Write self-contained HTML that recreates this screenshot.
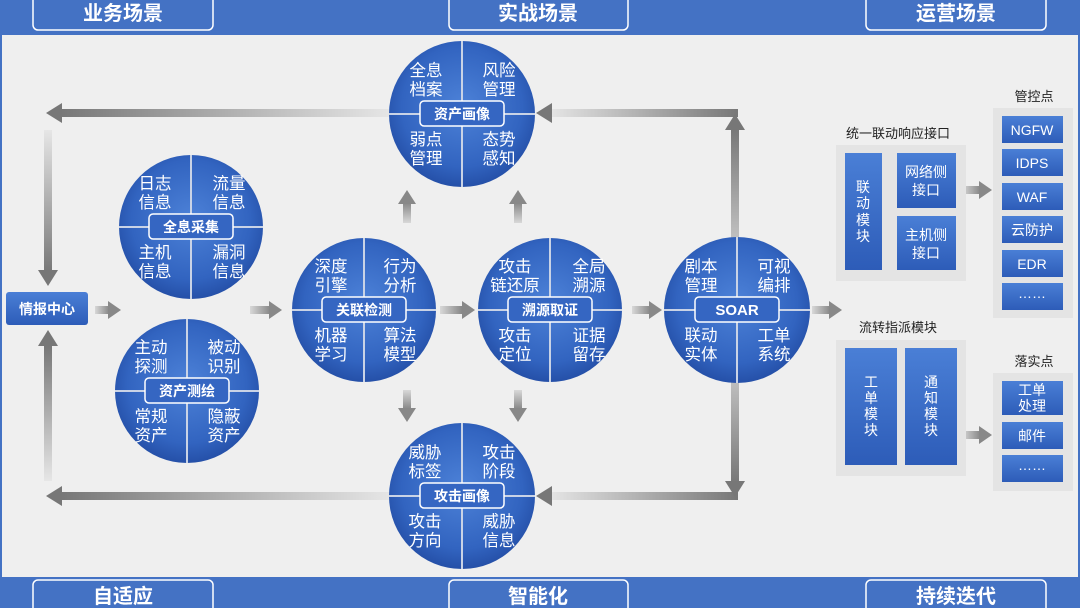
<!DOCTYPE html>
<html><head><meta charset="utf-8"><style>
html,body{margin:0;padding:0;background:#efefef;}
svg{display:block;font-family:"Liberation Sans","Noto Sans CJK SC",sans-serif;}
.q{fill:#fff;font-size:16.5px;text-anchor:middle;font-family:"Liberation Sans","Noto Sans CJK SC",sans-serif;}
.lb{fill:#fff;font-size:14px;font-weight:bold;text-anchor:middle;}
.hd{fill:#fff;font-size:20px;font-weight:bold;text-anchor:middle;}
.bt{fill:#fff;font-size:14px;text-anchor:middle;}
.ttl{fill:#222;font-size:13px;text-anchor:middle;}
</style></head><body>
<svg width="1080" height="608" viewBox="0 0 1080 608" xmlns="http://www.w3.org/2000/svg">
<defs>
<radialGradient id="cg" cx="50%" cy="45%" r="55%">
<stop offset="0" stop-color="#4d82d8"/><stop offset="0.75" stop-color="#3264c0"/><stop offset="1" stop-color="#2550a8"/>
</radialGradient>
<linearGradient id="bx" x1="0" y1="0" x2="0" y2="1"><stop offset="0" stop-color="#4a7fd6"/><stop offset="1" stop-color="#2d5cb8"/></linearGradient>
<linearGradient id="fl" x1="0" y1="0" x2="1" y2="0"><stop offset="0" stop-color="#777"/><stop offset="1" stop-color="#e6e6e6"/></linearGradient>
<linearGradient id="fr" x1="1" y1="0" x2="0" y2="0"><stop offset="0" stop-color="#777"/><stop offset="1" stop-color="#e6e6e6"/></linearGradient>
<linearGradient id="fd" x1="0" y1="1" x2="0" y2="0"><stop offset="0" stop-color="#777"/><stop offset="1" stop-color="#e6e6e6"/></linearGradient>
<linearGradient id="fu" x1="0" y1="0" x2="0" y2="1"><stop offset="0" stop-color="#777"/><stop offset="1" stop-color="#e6e6e6"/></linearGradient>
<linearGradient id="sh" x1="0" y1="0" x2="1" y2="0"><stop offset="0" stop-color="#d8d8d8"/><stop offset="1" stop-color="#888"/></linearGradient>
<linearGradient id="sv" x1="0" y1="0" x2="0" y2="1"><stop offset="0" stop-color="#d8d8d8"/><stop offset="1" stop-color="#888"/></linearGradient>
<linearGradient id="svu" x1="0" y1="1" x2="0" y2="0"><stop offset="0" stop-color="#d8d8d8"/><stop offset="1" stop-color="#888"/></linearGradient>
</defs>
<rect width="1080" height="608" fill="#efefef"/>
<rect x="0" y="0" width="1080" height="35" fill="#4472c4"/>
<rect x="33" y="-6" width="180" height="36" rx="5" fill="none" stroke="#fff" stroke-width="1.5"/>
<rect x="449" y="-6" width="179" height="36" rx="5" fill="none" stroke="#fff" stroke-width="1.5"/>
<rect x="866" y="-6" width="180" height="36" rx="5" fill="none" stroke="#fff" stroke-width="1.5"/>
<text class="hd" x="123" y="20">业务场景</text>
<text class="hd" x="538" y="20">实战场景</text>
<text class="hd" x="956" y="20">运营场景</text>
<rect x="0" y="577" width="1080" height="31" fill="#4472c4"/>
<rect x="33" y="580" width="180" height="36" rx="5" fill="none" stroke="#fff" stroke-width="1.5"/>
<rect x="449" y="580" width="179" height="36" rx="5" fill="none" stroke="#fff" stroke-width="1.5"/>
<rect x="866" y="580" width="180" height="36" rx="5" fill="none" stroke="#fff" stroke-width="1.5"/>
<text class="hd" x="123" y="603">自适应</text>
<text class="hd" x="538" y="603">智能化</text>
<text class="hd" x="956" y="603">持续迭代</text>
<rect x="0" y="35" width="2" height="542" fill="#4472c4"/>
<rect x="1078" y="35" width="2" height="542" fill="#4472c4"/>

<rect x="60" y="109" width="330" height="8" fill="url(#fl)"/>
<polygon points="46,113 62,103 62,123" fill="#777"/>
<rect x="44" y="130" width="8" height="142" fill="url(#fd)"/>
<polygon points="48,286 38,270 58,270" fill="#777"/>
<rect x="60" y="492" width="330" height="8" fill="url(#fl)"/>
<polygon points="46,496 62,486 62,506" fill="#777"/>
<rect x="44" y="346" width="8" height="135" fill="url(#fu)"/>
<polygon points="48,330 38,346 58,346" fill="#777"/>
<rect x="548" y="109" width="190" height="8" fill="url(#fr)"/>
<polygon points="536,113 552,103 552,123" fill="#777"/>
<rect x="731" y="128" width="8" height="168" fill="url(#fu)"/>
<polygon points="735,114 725,130 745,130" fill="#777"/>
<rect x="548" y="492" width="190" height="8" fill="url(#fr)"/>
<polygon points="536,496 552,486 552,506" fill="#777"/>
<rect x="731" y="325" width="8" height="158" fill="url(#fd)"/>
<polygon points="735,497 725,481 745,481" fill="#777"/>
<g>
<rect x="95" y="306" width="14" height="8" fill="url(#sh)"/><polygon points="121,310 108,301 108,319" fill="#888"/>
<rect x="250" y="306" width="20" height="8" fill="url(#sh)"/><polygon points="282,310 269,301 269,319" fill="#888"/>
<rect x="440" y="306" width="22" height="8" fill="url(#sh)"/><polygon points="475,310 462,301 462,319" fill="#888"/>
<rect x="632" y="306" width="18" height="8" fill="url(#sh)"/><polygon points="662,310 649,301 649,319" fill="#888"/>
<rect x="812" y="306" width="18" height="8" fill="url(#sh)"/><polygon points="842,310 829,301 829,319" fill="#888"/>
<rect x="403" y="203" width="8" height="20" fill="url(#svu)"/><polygon points="407,190 398,204 416,204" fill="#888"/>
<rect x="514" y="203" width="8" height="20" fill="url(#svu)"/><polygon points="518,190 509,204 527,204" fill="#888"/>
<rect x="403" y="390" width="8" height="19" fill="url(#sv)"/><polygon points="407,422 398,408 416,408" fill="#888"/>
<rect x="514" y="390" width="8" height="19" fill="url(#sv)"/><polygon points="518,422 509,408 527,408" fill="#888"/>
<rect x="962" y="186" width="18" height="8" fill="url(#sh)"/><polygon points="992,190 979,181 979,199" fill="#888"/>
<rect x="962" y="431" width="18" height="8" fill="url(#sh)"/><polygon points="992,435 979,426 979,444" fill="#888"/>
</g>

<rect x="6" y="292" width="82" height="33" rx="3" fill="url(#bx)"/>
<text class="lb" x="47" y="314">情报中心</text>

<g>
<circle cx="462" cy="114" r="73" fill="url(#cg)"/>
<line x1="462" y1="41" x2="462" y2="187" stroke="#c9d3e6" stroke-width="2"/>
<line x1="389" y1="114" x2="535" y2="114" stroke="#c9d3e6" stroke-width="2"/>
<text class="q" x="426" y="76">全息</text><text class="q" x="426" y="95">档案</text>
<text class="q" x="499" y="76">风险</text><text class="q" x="499" y="95">管理</text>
<text class="q" x="426" y="145">弱点</text><text class="q" x="426" y="164">管理</text>
<text class="q" x="499" y="145">态势</text><text class="q" x="499" y="164">感知</text>
<rect x="420" y="101" width="84" height="25" rx="4" fill="#3566c2" stroke="#fff" stroke-width="1.5"/>
<text class="lb" x="462" y="119">资产画像</text>
</g>
<g>
<circle cx="191" cy="227" r="72" fill="url(#cg)"/>
<line x1="191" y1="155" x2="191" y2="299" stroke="#c9d3e6" stroke-width="2"/>
<line x1="119" y1="227" x2="263" y2="227" stroke="#c9d3e6" stroke-width="2"/>
<text class="q" x="155" y="189">日志</text><text class="q" x="155" y="208">信息</text>
<text class="q" x="229" y="189">流量</text><text class="q" x="229" y="208">信息</text>
<text class="q" x="155" y="258">主机</text><text class="q" x="155" y="277">信息</text>
<text class="q" x="229" y="258">漏洞</text><text class="q" x="229" y="277">信息</text>
<rect x="149" y="214" width="84" height="25" rx="4" fill="#3566c2" stroke="#fff" stroke-width="1.5"/>
<text class="lb" x="191" y="232">全息采集</text>
</g>
<g>
<circle cx="187" cy="391" r="72" fill="url(#cg)"/>
<line x1="187" y1="319" x2="187" y2="463" stroke="#c9d3e6" stroke-width="2"/>
<line x1="115" y1="391" x2="259" y2="391" stroke="#c9d3e6" stroke-width="2"/>
<text class="q" x="151" y="353">主动</text><text class="q" x="151" y="372">探测</text>
<text class="q" x="224" y="353">被动</text><text class="q" x="224" y="372">识别</text>
<text class="q" x="151" y="422">常规</text><text class="q" x="151" y="441">资产</text>
<text class="q" x="224" y="422">隐蔽</text><text class="q" x="224" y="441">资产</text>
<rect x="145" y="378" width="84" height="25" rx="4" fill="#3566c2" stroke="#fff" stroke-width="1.5"/>
<text class="lb" x="187" y="396">资产测绘</text>
</g>
<g>
<circle cx="364" cy="310" r="72" fill="url(#cg)"/>
<line x1="364" y1="238" x2="364" y2="382" stroke="#c9d3e6" stroke-width="2"/>
<line x1="292" y1="310" x2="436" y2="310" stroke="#c9d3e6" stroke-width="2"/>
<text class="q" x="331" y="272">深度</text><text class="q" x="331" y="291">引擎</text>
<text class="q" x="400" y="272">行为</text><text class="q" x="400" y="291">分析</text>
<text class="q" x="331" y="341">机器</text><text class="q" x="331" y="360">学习</text>
<text class="q" x="400" y="341">算法</text><text class="q" x="400" y="360">模型</text>
<rect x="322" y="297" width="84" height="25" rx="4" fill="#3566c2" stroke="#fff" stroke-width="1.5"/>
<text class="lb" x="364" y="315">关联检测</text>
</g>
<g>
<circle cx="550" cy="310" r="72" fill="url(#cg)"/>
<line x1="550" y1="238" x2="550" y2="382" stroke="#c9d3e6" stroke-width="2"/>
<line x1="478" y1="310" x2="622" y2="310" stroke="#c9d3e6" stroke-width="2"/>
<text class="q" x="515" y="272">攻击</text><text class="q" x="515" y="291">链还原</text>
<text class="q" x="589" y="272">全局</text><text class="q" x="589" y="291">溯源</text>
<text class="q" x="515" y="341">攻击</text><text class="q" x="515" y="360">定位</text>
<text class="q" x="589" y="341">证据</text><text class="q" x="589" y="360">留存</text>
<rect x="508" y="297" width="84" height="25" rx="4" fill="#3566c2" stroke="#fff" stroke-width="1.5"/>
<text class="lb" x="550" y="315">溯源取证</text>
</g>
<g>
<circle cx="737" cy="310" r="73" fill="url(#cg)"/>
<line x1="737" y1="237" x2="737" y2="383" stroke="#c9d3e6" stroke-width="2"/>
<line x1="664" y1="310" x2="810" y2="310" stroke="#c9d3e6" stroke-width="2"/>
<text class="q" x="701" y="272">剧本</text><text class="q" x="701" y="291">管理</text>
<text class="q" x="774" y="272">可视</text><text class="q" x="774" y="291">编排</text>
<text class="q" x="701" y="341">联动</text><text class="q" x="701" y="360">实体</text>
<text class="q" x="774" y="341">工单</text><text class="q" x="774" y="360">系统</text>
<rect x="695" y="297" width="84" height="25" rx="4" fill="#3566c2" stroke="#fff" stroke-width="1.5"/>
<text class="lb" x="737" y="315" style="font-size:15px">SOAR</text>
</g>
<g>
<circle cx="462" cy="496" r="73" fill="url(#cg)"/>
<line x1="462" y1="423" x2="462" y2="569" stroke="#c9d3e6" stroke-width="2"/>
<line x1="389" y1="496" x2="535" y2="496" stroke="#c9d3e6" stroke-width="2"/>
<text class="q" x="425" y="458">威胁</text><text class="q" x="425" y="477">标签</text>
<text class="q" x="499" y="458">攻击</text><text class="q" x="499" y="477">阶段</text>
<text class="q" x="425" y="527">攻击</text><text class="q" x="425" y="546">方向</text>
<text class="q" x="499" y="527">威胁</text><text class="q" x="499" y="546">信息</text>
<rect x="420" y="483" width="84" height="25" rx="4" fill="#3566c2" stroke="#fff" stroke-width="1.5"/>
<text class="lb" x="462" y="501">攻击画像</text>
</g>

<text class="ttl" x="898" y="138">统一联动响应接口</text>
<rect x="836" y="145" width="130" height="136" fill="#e4e4e4"/>
<rect x="845" y="153" width="37" height="117" fill="url(#bx)"/>
<text class="bt" x="863" y="192">联</text><text class="bt" x="863" y="208">动</text><text class="bt" x="863" y="225">模</text><text class="bt" x="863" y="241">块</text>
<rect x="897" y="153" width="59" height="55" fill="url(#bx)"/>
<text class="bt" x="926" y="177">网络侧</text><text class="bt" x="926" y="195">接口</text>
<rect x="897" y="216" width="59" height="54" fill="url(#bx)"/>
<text class="bt" x="926" y="240">主机侧</text><text class="bt" x="926" y="258">接口</text>

<text class="ttl" x="1034" y="101">管控点</text>
<rect x="993" y="108" width="80" height="210" fill="#e4e4e4"/>
<rect x="1002" y="116" width="61" height="27" fill="url(#bx)"/><text class="bt" x="1032" y="135">NGFW</text>
<rect x="1002" y="149" width="61" height="27" fill="url(#bx)"/><text class="bt" x="1032" y="168">IDPS</text>
<rect x="1002" y="183" width="61" height="27" fill="url(#bx)"/><text class="bt" x="1032" y="202">WAF</text>
<rect x="1002" y="216" width="61" height="27" fill="url(#bx)"/><text class="bt" x="1032" y="235">云防护</text>
<rect x="1002" y="250" width="61" height="27" fill="url(#bx)"/><text class="bt" x="1032" y="269">EDR</text>
<rect x="1002" y="283" width="61" height="27" fill="url(#bx)"/><text class="bt" x="1032" y="298">……</text>

<text class="ttl" x="898" y="332">流转指派模块</text>
<rect x="836" y="340" width="130" height="136" fill="#e4e4e4"/>
<rect x="845" y="348" width="52" height="117" fill="url(#bx)"/>
<text class="bt" x="871" y="387">工</text><text class="bt" x="871" y="403">单</text><text class="bt" x="871" y="419">模</text><text class="bt" x="871" y="435">块</text>
<rect x="905" y="348" width="52" height="117" fill="url(#bx)"/>
<text class="bt" x="931" y="387">通</text><text class="bt" x="931" y="403">知</text><text class="bt" x="931" y="419">模</text><text class="bt" x="931" y="435">块</text>

<text class="ttl" x="1034" y="366">落实点</text>
<rect x="993" y="373" width="80" height="118" fill="#e4e4e4"/>
<rect x="1002" y="381" width="61" height="34" fill="url(#bx)"/><text class="bt" x="1032" y="395">工单</text><text class="bt" x="1032" y="411">处理</text>
<rect x="1002" y="422" width="61" height="27" fill="url(#bx)"/><text class="bt" x="1032" y="441">邮件</text>
<rect x="1002" y="455" width="61" height="27" fill="url(#bx)"/><text class="bt" x="1032" y="470">……</text>
</svg>
</body></html>
